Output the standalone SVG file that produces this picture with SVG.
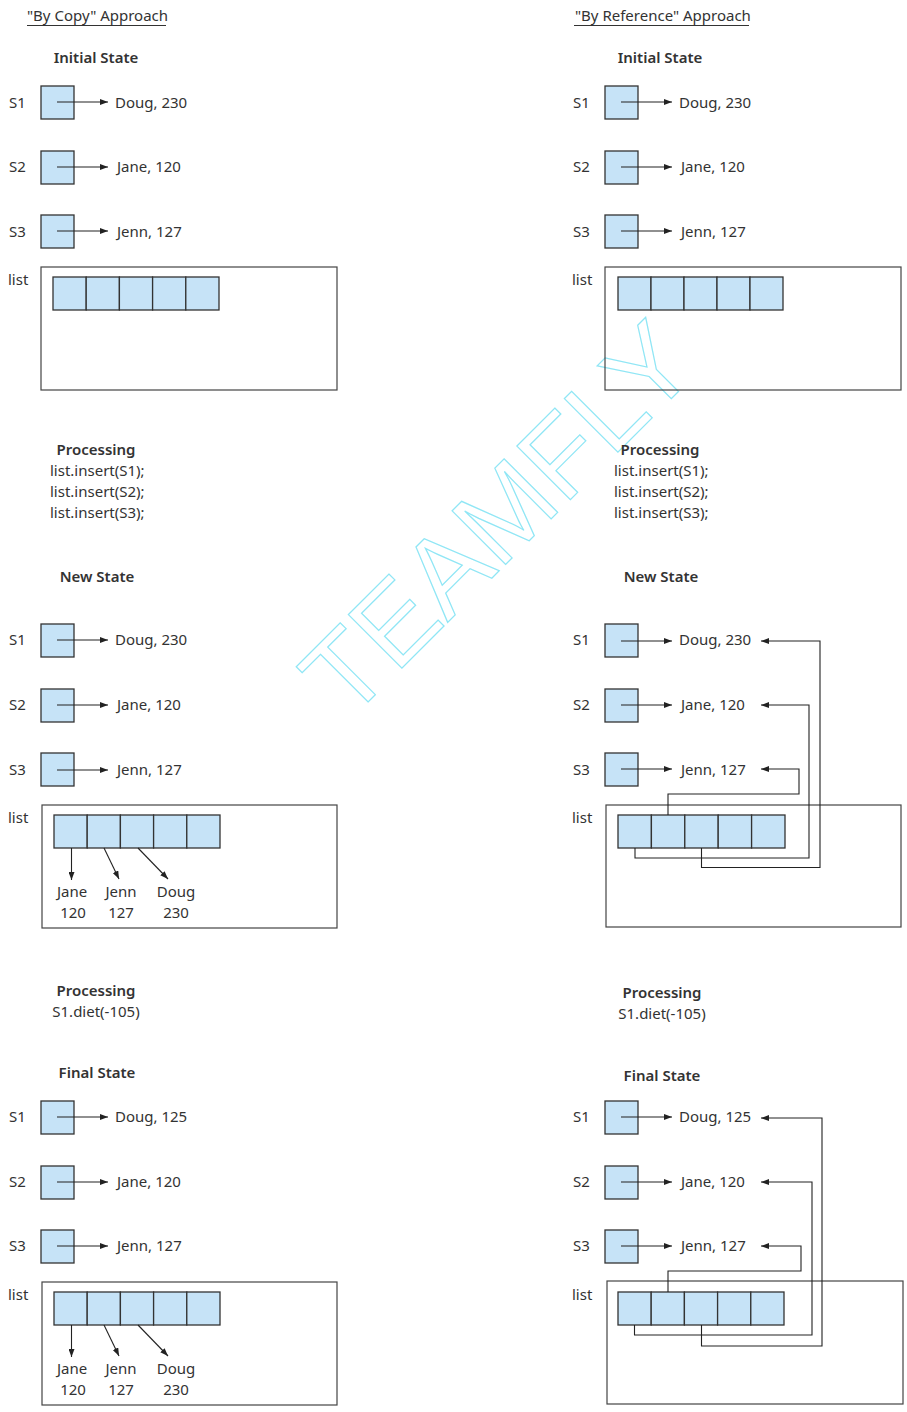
<svg xmlns="http://www.w3.org/2000/svg" width="907" height="1412" viewBox="0 0 907 1412">
<defs>
<marker id="ah" markerUnits="userSpaceOnUse" markerWidth="9" markerHeight="6" refX="8" refY="3" orient="auto">
<path d="M0,0 L8,3 L0,6 z" fill="#222"/>
</marker>
<style>
text{font-family:"Noto Sans","Liberation Sans",sans-serif;font-size:15px;fill:#333}
.b{font-weight:600;font-size:15px}
.m{text-anchor:middle}
.box{fill:#c6e3f7;stroke:#333;stroke-width:1.3}
.frame{fill:none;stroke:#444;stroke-width:1.2}
.cn{fill:none;stroke:#222;stroke-width:1.1}
.ar{fill:none;stroke:#222;stroke-width:1.1;marker-end:url(#ah)}
.ul{stroke:#333;stroke-width:1}
.wm{font-family:"Liberation Sans",sans-serif;font-size:110px;fill:none;stroke:#8fe6f5;stroke-width:1.2}
</style>
</defs>
<rect width="907" height="1412" fill="#fff"/>

<text class="wm" x="348" y="722" transform="rotate(-45 348 722)">TEAMFLY</text>

<!-- headers -->
<g id="headers">
<text x="27" y="21">"By Copy" Approach</text>
<line class="ul" x1="27" y1="25.5" x2="166" y2="25.5"/>
<text x="575" y="21">"By Reference" Approach</text>
<line class="ul" x1="574" y1="25.5" x2="749" y2="25.5"/>
<text class="b m" x="96" y="63">Initial State</text>
<text class="b m" x="660" y="63">Initial State</text>
<text class="b m" x="96" y="455">Processing</text>
<text x="50" y="476">list.insert(S1);</text>
<text x="50" y="497">list.insert(S2);</text>
<text x="50" y="518">list.insert(S3);</text>
<text class="b m" x="660" y="455">Processing</text>
<text x="614" y="476">list.insert(S1);</text>
<text x="614" y="497">list.insert(S2);</text>
<text x="614" y="518">list.insert(S3);</text>
<text class="b m" x="97" y="582">New State</text>
<text class="b m" x="661" y="582">New State</text>
<text class="b m" x="96" y="996">Processing</text>
<text class="m" x="96" y="1017">S1.diet(-105)</text>
<text class="b m" x="662" y="998">Processing</text>
<text class="m" x="662" y="1019">S1.diet(-105)</text>
<text class="b m" x="97" y="1078">Final State</text>
<text class="b m" x="662" y="1081">Final State</text>
</g>

<!-- LEFT: Initial -->
<g id="L-init-S1"><text x="9" y="108">S1</text><rect class="box" x="41" y="86" width="33" height="33"/><text x="115" y="108">Doug, 230</text></g>
<g id="L-init-S2"><text x="9" y="172">S2</text><rect class="box" x="41" y="151" width="33" height="33"/><text x="117" y="172">Jane, 120</text></g>
<g id="L-init-S3"><text x="9" y="237">S3</text><rect class="box" x="41" y="215" width="33" height="33"/><text x="117" y="237">Jenn, 127</text></g>
<g id="L-init-list"><text x="8" y="285">list</text><rect class="frame" x="41" y="267" width="296" height="123"/>
<rect class="box" x="53" y="277" width="33.2" height="33"/><rect class="box" x="86.2" y="277" width="33.2" height="33"/><rect class="box" x="119.4" y="277" width="33.2" height="33"/><rect class="box" x="152.6" y="277" width="33.2" height="33"/><rect class="box" x="185.8" y="277" width="33.2" height="33"/></g>

<!-- RIGHT: Initial -->
<g id="R-init-S1"><text x="573" y="108">S1</text><rect class="box" x="605" y="86" width="33" height="33"/><text x="679" y="108">Doug, 230</text></g>
<g id="R-init-S2"><text x="573" y="172">S2</text><rect class="box" x="605" y="151" width="33" height="33"/><text x="681" y="172">Jane, 120</text></g>
<g id="R-init-S3"><text x="573" y="237">S3</text><rect class="box" x="605" y="215" width="33" height="33"/><text x="681" y="237">Jenn, 127</text></g>
<g id="R-init-list"><text x="572" y="285">list</text><rect class="frame" x="605" y="267" width="296" height="123"/>
<rect class="box" x="618" y="277" width="33" height="33"/><rect class="box" x="651" y="277" width="33" height="33"/><rect class="box" x="684" y="277" width="33" height="33"/><rect class="box" x="717" y="277" width="33" height="33"/><rect class="box" x="750" y="277" width="33" height="33"/></g>

<!-- LEFT: New -->
<g id="L-new-S1"><text x="9" y="645">S1</text><rect class="box" x="41" y="624" width="33" height="33"/><text x="115" y="645">Doug, 230</text></g>
<g id="L-new-S2"><text x="9" y="710">S2</text><rect class="box" x="41" y="689" width="33" height="33"/><text x="117" y="710">Jane, 120</text></g>
<g id="L-new-S3"><text x="9" y="775">S3</text><rect class="box" x="41" y="753" width="33" height="33"/><text x="117" y="775">Jenn, 127</text></g>
<g id="L-new-list"><text x="8" y="823">list</text><rect class="frame" x="42" y="805" width="295" height="123"/>
<rect class="box" x="54" y="815" width="33.2" height="33"/><rect class="box" x="87.2" y="815" width="33.2" height="33"/><rect class="box" x="120.4" y="815" width="33.2" height="33"/><rect class="box" x="153.6" y="815" width="33.2" height="33"/><rect class="box" x="186.8" y="815" width="33.2" height="33"/>
<text class="m" x="72" y="897">Jane</text><text class="m" x="73" y="918">120</text>
<text class="m" x="121" y="897">Jenn</text><text class="m" x="121" y="918">127</text>
<text class="m" x="176" y="897">Doug</text><text class="m" x="176" y="918">230</text></g>

<!-- RIGHT: New -->
<g id="R-new-S1"><text x="573" y="645">S1</text><rect class="box" x="605" y="624" width="33" height="33"/><text x="679" y="645">Doug, 230</text></g>
<g id="R-new-S2"><text x="573" y="710">S2</text><rect class="box" x="605" y="689" width="33" height="33"/><text x="681" y="710">Jane, 120</text></g>
<g id="R-new-S3"><text x="573" y="775">S3</text><rect class="box" x="605" y="753" width="33" height="33"/><text x="681" y="775">Jenn, 127</text></g>
<g id="R-new-list"><text x="572" y="823">list</text><rect class="frame" x="606" y="805" width="295" height="122"/>
<rect class="box" x="618" y="815" width="33.4" height="33"/><rect class="box" x="651.4" y="815" width="33.4" height="33"/><rect class="box" x="684.8" y="815" width="33.4" height="33"/><rect class="box" x="718.2" y="815" width="33.4" height="33"/><rect class="box" x="751.6" y="815" width="33.4" height="33"/></g>

<!-- LEFT: Final -->
<g id="L-fin-S1"><text x="9" y="1122">S1</text><rect class="box" x="41" y="1101" width="33" height="33"/><text x="115" y="1122">Doug, 125</text></g>
<g id="L-fin-S2"><text x="9" y="1187">S2</text><rect class="box" x="41" y="1166" width="33" height="33"/><text x="117" y="1187">Jane, 120</text></g>
<g id="L-fin-S3"><text x="9" y="1251">S3</text><rect class="box" x="41" y="1230" width="33" height="33"/><text x="117" y="1251">Jenn, 127</text></g>
<g id="L-fin-list"><text x="8" y="1300">list</text><rect class="frame" x="42" y="1282" width="295" height="123"/>
<rect class="box" x="54" y="1292" width="33.2" height="33"/><rect class="box" x="87.2" y="1292" width="33.2" height="33"/><rect class="box" x="120.4" y="1292" width="33.2" height="33"/><rect class="box" x="153.6" y="1292" width="33.2" height="33"/><rect class="box" x="186.8" y="1292" width="33.2" height="33"/>
<text class="m" x="72" y="1374">Jane</text><text class="m" x="73" y="1395">120</text>
<text class="m" x="121" y="1374">Jenn</text><text class="m" x="121" y="1395">127</text>
<text class="m" x="176" y="1374">Doug</text><text class="m" x="176" y="1395">230</text></g>

<!-- RIGHT: Final -->
<g id="R-fin-S1"><text x="573" y="1122">S1</text><rect class="box" x="605" y="1101" width="33" height="33"/><text x="679" y="1122">Doug, 125</text></g>
<g id="R-fin-S2"><text x="573" y="1187">S2</text><rect class="box" x="605" y="1166" width="33" height="33"/><text x="681" y="1187">Jane, 120</text></g>
<g id="R-fin-S3"><text x="573" y="1251">S3</text><rect class="box" x="605" y="1230" width="33" height="33"/><text x="681" y="1251">Jenn, 127</text></g>
<g id="R-fin-list"><text x="572" y="1300">list</text><rect class="frame" x="607" y="1281" width="296" height="123"/>
<rect class="box" x="618" y="1292" width="33.2" height="33"/><rect class="box" x="651.2" y="1292" width="33.2" height="33"/><rect class="box" x="684.4" y="1292" width="33.2" height="33"/><rect class="box" x="717.6" y="1292" width="33.2" height="33"/><rect class="box" x="750.8" y="1292" width="33.2" height="33"/></g>

<!-- connectors -->
<g id="connectors">
<path class="ar" d="M57 102H108"/><path class="ar" d="M57 167H108"/><path class="ar" d="M57 231H108"/>
<path class="ar" d="M621 102H672"/><path class="ar" d="M621 167H672"/><path class="ar" d="M621 231H672"/>
<path class="ar" d="M57 640H108"/><path class="ar" d="M57 705H108"/><path class="ar" d="M57 770H108"/>
<path class="ar" d="M621 641H672"/><path class="ar" d="M621 705H672"/><path class="ar" d="M621 769H672"/>
<path class="ar" d="M57 1117H108"/><path class="ar" d="M57 1182H108"/><path class="ar" d="M57 1246H108"/>
<path class="ar" d="M621 1117H672"/><path class="ar" d="M621 1182H672"/><path class="ar" d="M621 1246H672"/>
<path class="ar" d="M71.5 848V880"/><path class="ar" d="M104 848L119 879"/><path class="ar" d="M138 848L168 879"/>
<path class="ar" d="M71.5 1325V1357"/><path class="ar" d="M104 1325L119 1356"/><path class="ar" d="M138 1325L168 1356"/>
<path class="ar" d="M701.5 848V867.5H820V641H761"/>
<path class="ar" d="M635 848V858H809V705H761"/>
<path class="ar" d="M668 815V794H799V769H761"/>
<path class="ar" d="M701.5 1325V1346H822V1118H761"/>
<path class="ar" d="M634.5 1325V1335H812V1182H761"/>
<path class="ar" d="M668 1292V1271H801V1246H761"/>
</g>
</svg>
